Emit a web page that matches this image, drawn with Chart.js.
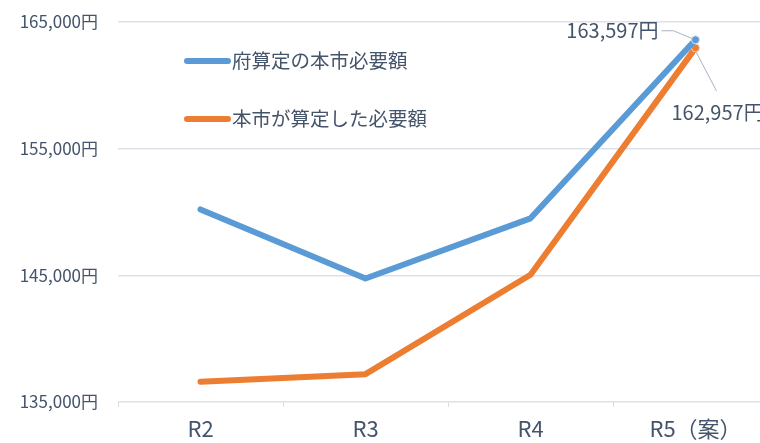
<!DOCTYPE html>
<html>
<head>
<meta charset="utf-8">
<script src="https://cdn.jsdelivr.net/npm/chart.js@4.4.0/dist/chart.umd.min.js"></script>
<style>
  html, body { margin: 0; padding: 0; background: #fff; overflow: hidden; }
  #wrap { width: 785px; height: 443px; }
</style>
</head>
<body>
<div id="wrap"><canvas id="chart" width="785" height="443"></canvas></div>
<script>
const categories = ['R2', 'R3', 'R4', 'R5（案）'];
const prefValues = [150200, 144750, 149500, 163597];
const cityValues = [136600, 137200, 145050, 162957];
const seriesNames = ['府算定の本市必要額', '本市が算定した必要額'];
const yTicks = [135000, 145000, 155000, 165000];

const textColor = '#44546a';
const fontFamily = '"Noto Sans CJK JP", "Noto Sans", sans-serif';
const yen = v => v.toLocaleString('en-US') + '円';

// legend drawn inside the plot area
const insideLegend = {
    id: 'insideLegend',
    afterDraw(chart) {
        const ctx = chart.ctx;
        const rows = [61, 119];
        chart.data.datasets.forEach((ds, i) => {
            const y = rows[i];
            ctx.save();
            ctx.strokeStyle = ds.borderColor;
            ctx.lineWidth = 6;
            ctx.lineCap = 'round';
            ctx.beginPath();
            ctx.moveTo(187, y);
            ctx.lineTo(228, y);
            ctx.stroke();
            ctx.fillStyle = textColor;
            ctx.font = '19.5px ' + fontFamily;
            ctx.textBaseline = 'middle';
            ctx.textAlign = 'left';
            ctx.fillText(ds.label, 232, y);
            ctx.restore();
        });
    }
};

// value labels for the last point, with leader lines
const lastLabels = {
    id: 'lastLabels',
    afterDatasetsDraw(chart) {
        const ctx = chart.ctx;
        const last = categories.length - 1;
        const p0 = chart.getDatasetMeta(0).data[last];
        const p1 = chart.getDatasetMeta(1).data[last];
        ctx.save();
        ctx.strokeStyle = '#a6b3c3';
        ctx.lineWidth = 1;
        ctx.beginPath();
        ctx.moveTo(p0.x - 34, p0.y - 9);
        ctx.lineTo(p0.x - 22, p0.y - 9);
        ctx.lineTo(p0.x - 3, p0.y - 1);
        ctx.stroke();
        ctx.beginPath();
        ctx.moveTo(p1.x, p1.y + 3);
        ctx.lineTo(p1.x + 21, p1.y + 43);
        ctx.stroke();
        ctx.fillStyle = textColor;
        ctx.font = '20px ' + fontFamily;
        ctx.textBaseline = 'middle';
        ctx.textAlign = 'right';
        ctx.fillText(yen(prefValues[last]), p0.x - 37, p0.y - 9);
        ctx.textAlign = 'left';
        ctx.fillText(yen(cityValues[last]), p1.x - 24, p1.y + 65);
        ctx.restore();
    }
};

new Chart(document.getElementById('chart'), {
    type: 'line',
    data: {
        labels: categories,
        datasets: [{
            label: seriesNames[0],
            data: prefValues,
            borderColor: '#5b9bd5',
            backgroundColor: '#5b9bd5',
            borderWidth: 6,
            borderJoinStyle: 'round',
            borderCapStyle: 'round',
            tension: 0,
            pointRadius: [0, 0, 0, 4],
            pointBorderColor: '#d6e4f2',
            pointBorderWidth: 1
        }, {
            label: seriesNames[1],
            data: cityValues,
            borderColor: '#ed7d31',
            backgroundColor: '#ed7d31',
            borderWidth: 6,
            borderJoinStyle: 'round',
            borderCapStyle: 'round',
            tension: 0,
            pointRadius: [0, 0, 0, 4],
            pointBorderColor: '#f6d3bb',
            pointBorderWidth: 1
        }]
    },
    options: {
        responsive: false,
        animation: false,
        layout: { padding: { top: 22, right: 7, left: 0, bottom: 0 } },
        plugins: {
            legend: { display: false },
            tooltip: { enabled: false }
        },
        scales: {
            x: {
                offset: true,
                grid: {
                    offset: true,
                    drawOnChartArea: false,
                    drawTicks: true,
                    tickLength: 5,
                    color: '#d9dee6'
                },
                border: { display: false },
                ticks: {
                    color: textColor,
                    font: { family: fontFamily, size: 22 },
                    padding: 8,
                    maxRotation: 0
                },
                afterFit(scale) {
                    scale.height = 41;
                    scale.paddingLeft = 0;
                    scale.paddingRight = 0;
                }
            },
            y: {
                min: yTicks[0],
                max: yTicks[yTicks.length - 1],
                afterBuildTicks(scale) { scale.ticks = yTicks.map(v => ({ value: v })); },
                grid: { color: '#dde2ea', lineWidth: 1.5, drawTicks: false },
                border: { display: false },
                ticks: {
                    color: textColor,
                    font: { family: fontFamily, size: 17 },
                    padding: 20,
                    callback: v => yen(v)
                },
                afterFit(scale) {
                    scale.width = 118;
                    scale.paddingTop = 0;
                    scale.paddingBottom = 0;
                }
            }
        }
    },
    plugins: [insideLegend, lastLabels]
});
</script>
</body>
</html>
